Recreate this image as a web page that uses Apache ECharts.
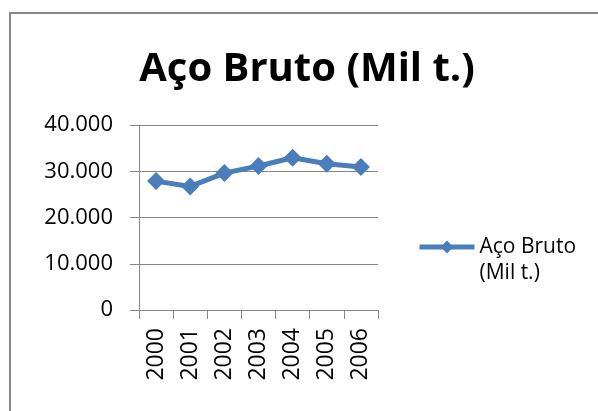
<!DOCTYPE html>
<html lang="pt">

<head>
    <meta charset="UTF-8">
    <script src="https://cdn.jsdelivr.net/npm/echarts@6/dist/echarts.min.js"></script>
    <title>Aço Bruto</title>
    <style>
        html, body { margin: 0; padding: 0; background: #fff; }
    </style>
</head>

<body>
    <div id="main" style="width: 598px; height: 411px;"></div>

    <script type="text/javascript">
        // dados
        let anos = ['2000', '2001', '2002', '2003', '2004', '2005', '2006'];
        let acoBruto = [27865, 26717, 29604, 31147, 32909, 31631, 30901];
        let yTicks = [0, 10000, 20000, 30000, 40000];

        let fonte = '"Open Sans", "Noto Sans", sans-serif';
        let azul = '#4a7ebb';
        let cinza = '#868686';

        let myChart = echarts.init(document.getElementById('main'));

        let option = {
            animation: false,
            backgroundColor: '#fff',
            title: {
                text: 'Aço Bruto (Mil t.)',
                left: 302,
                top: 45,
                textAlign: 'center',
                textStyle: {
                    fontFamily: fonte,
                    fontWeight: 'bold',
                    fontSize: 40,
                    color: '#000'
                }
            },
            graphic: [{
                type: 'rect',
                shape: { x: 10, y: 13, width: 700, height: 500 },
                style: { fill: 'none', stroke: cinza, lineWidth: 2 },
                silent: true
            }],
            legend: {
                left: 412,
                top: 203,
                orient: 'vertical',
                itemWidth: 55,
                itemHeight: 16,
                lineStyle: { width: 5 },
                // linha em branco para alinhar a 1a linha com o ícone
                formatter: function () {
                    return '\nAço Bruto\n(Mil t.)';
                },
                textStyle: {
                    fontFamily: fonte,
                    fontSize: 21,
                    color: '#000',
                    lineHeight: 26
                }
            },
            grid: {
                left: 139,
                right: 220,
                top: 125,
                bottom: 101
            },
            xAxis: {
                type: 'category',
                data: anos,
                boundaryGap: true,
                axisLine: { lineStyle: { color: cinza, width: 1 } },
                axisTick: { show: true, length: 9, inside: false, lineStyle: { color: cinza } },
                axisLabel: {
                    rotate: 90,
                    margin: 18,
                    fontFamily: fonte,
                    fontSize: 23,
                    color: '#000'
                }
            },
            yAxis: {
                type: 'value',
                min: yTicks[0],
                max: yTicks[yTicks.length - 1],
                interval: 10000,
                axisLine: { show: true, lineStyle: { color: cinza, width: 1 } },
                axisTick: { show: true, length: 9, lineStyle: { color: cinza } },
                splitLine: { show: true, lineStyle: { color: cinza, width: 1 } },
                axisLabel: {
                    margin: 26,
                    fontFamily: fonte,
                    fontSize: 22,
                    color: '#000',
                    formatter: function (v) {
                        return v.toString().replace(/\B(?=(\d{3})+(?!\d))/g, '.');
                    }
                }
            },
            series: [{
                name: 'Aço Bruto (Mil t.)',
                type: 'line',
                data: acoBruto,
                symbol: 'diamond',
                symbolSize: 18,
                color: azul,
                lineStyle: { width: 5, color: azul },
                itemStyle: { color: azul }
            }]
        };

        myChart.setOption(option);
    </script>
</body>

</html>
